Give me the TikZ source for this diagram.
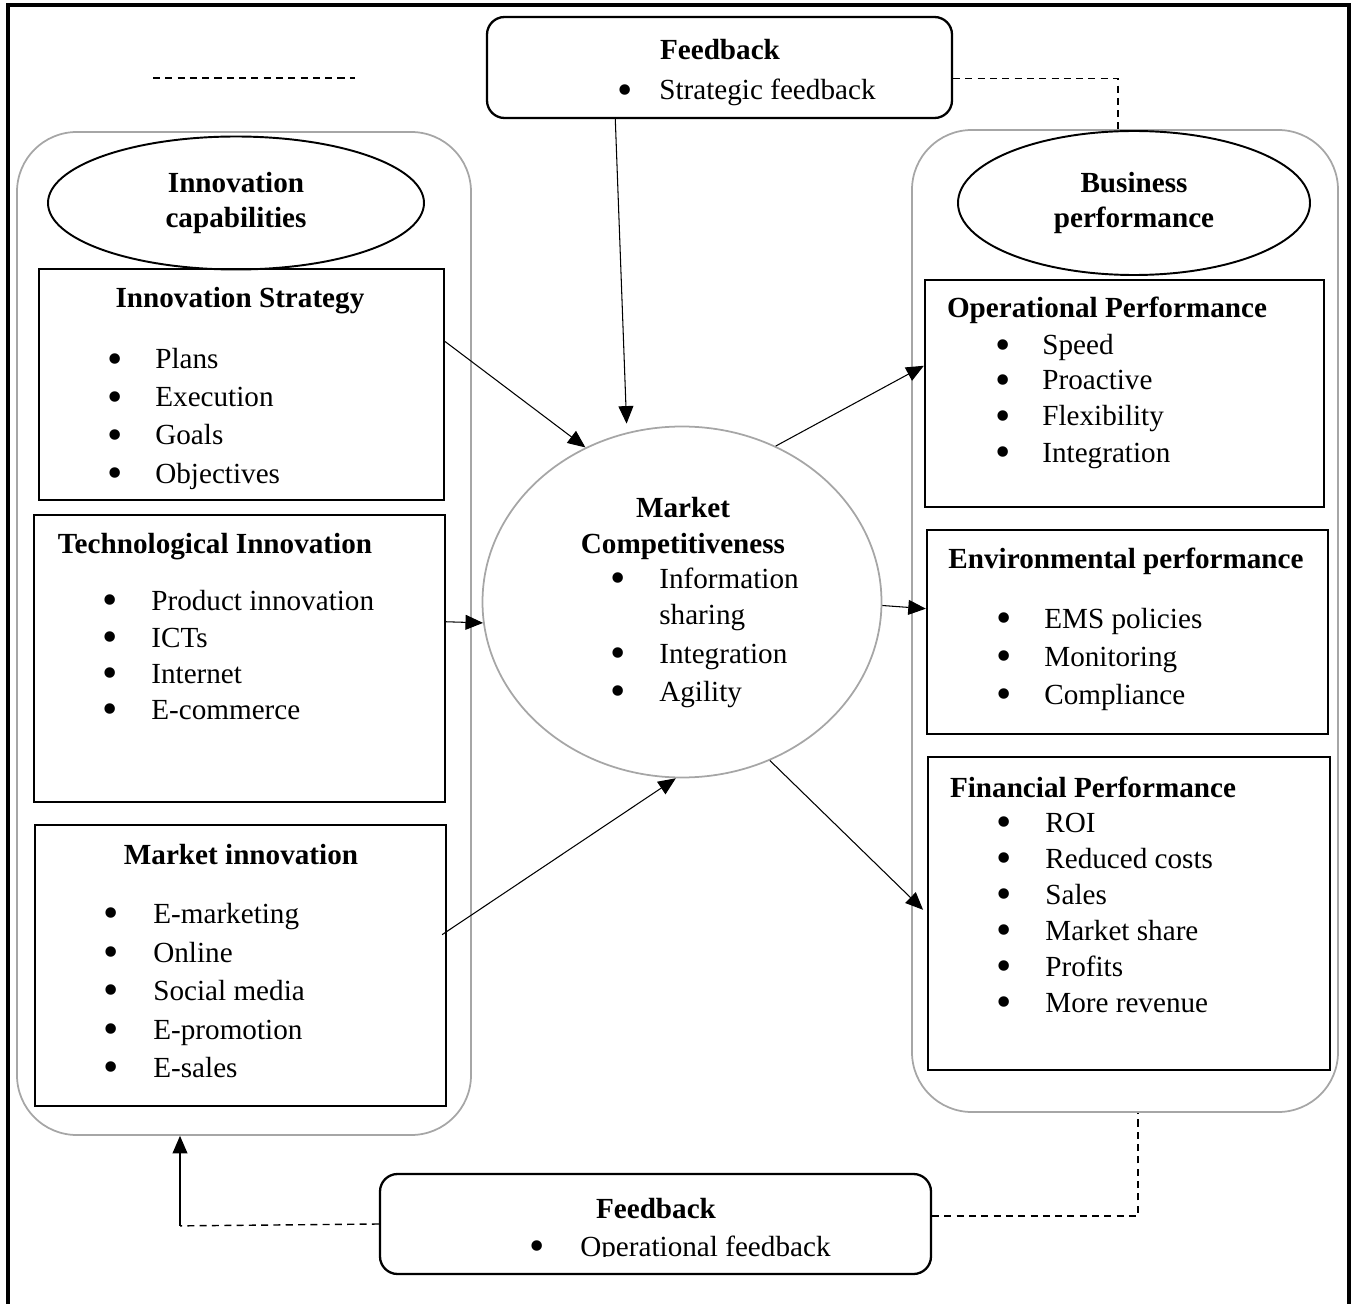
\documentclass[tikz,border=0pt]{standalone}
\usepackage{fontspec}
\usepackage{graphicx}
\setmainfont{Liberation Serif}
\usetikzlibrary{arrows.meta,shapes.geometric,calc,fit}

\newcommand\txtfont{\fontsize{16.6}{20.4}\selectfont}
% enlarged bullet, kept centred on the text line
\newcommand\dotmark{\smash{\raisebox{-2.6pt}{\scalebox{1.5}{\textbullet}}}}

% bullet list: prefix, bullet x, text x, {label/y, ...}
\newcommand\bulletlist[4]{%
  \foreach \lbl/\ypos [count=\i] in {#4} {
    \node[bul] (#1-b\i) at (#2,\ypos+10) {\dotmark};
    \node[itm] (#1-t\i) at (#3,\ypos+10) {\lbl};
  }}

\begin{document}
\begin{tikzpicture}[x=0.02cm,y=-0.02cm,
  every node/.style={font=\txtfont},
  frame/.style={line width=2.2pt},
  group/.style={draw=black!35, line width=1pt, rounded corners=34pt, inner sep=0pt},
  panel/.style={draw, line width=1.3pt, rectangle, inner sep=0pt},
  oval/.style={draw, ellipse, line width=1.1pt, inner sep=0pt, align=center,
    font=\txtfont\bfseries},
  bigoval/.style={draw=black!35, ellipse, line width=1pt, inner sep=0pt},
  fbbox/.style={draw, line width=1.3pt, rounded corners=10pt, inner sep=0pt},
  ttl/.style={font=\txtfont\bfseries, anchor=base, inner sep=0pt},
  itm/.style={anchor=base west, inner sep=0pt},
  bul/.style={anchor=base, inner sep=0pt},
  link/.style={line width=0.6pt, -{Triangle[length=10pt,width=8.5pt]}},
  fbline/.style={line width=0.8pt, dash pattern=on 4pt off 3pt},
]
\useasboundingbox (0,0) rectangle (1357,1304);

% outer frame, open at the bottom
\coordinate (fr-bl) at (8,1310);
\coordinate (fr-tl) at (8,5);
\coordinate (fr-tr) at (1349,5);
\coordinate (fr-br) at (1349,1310);
\draw[frame] (fr-bl) -- (fr-tl) -- (fr-tr) -- (fr-br);

% loose dashed stroke at top left
\coordinate (dl-a) at (153,78);
\coordinate (dl-b) at (355,78);
\draw[fbline] (dl-a) -- (dl-b);

% grouping containers
\node[group, fit={(17,132) (471,1135)}] (lc) {};
\node[group, fit={(912,130) (1338,1112)}] (rc) {};

% feedback boxes
\node[fbbox, fit={(487,17) (952,118)}] (fbtop) {};
\node[ttl] (fbtop-h) at (720,60) {Feedback};
\node[bul] (fbtop-b1) at (625,100) {\dotmark};
\node[itm] (fbtop-t1) at (659,100) {Strategic feedback};

\node[fbbox, fit={(380,1174) (931,1274)}] (fbbot) {};
\node[ttl] (fbbot-h) at (656,1218) {Feedback};
\begin{scope}
  \clip (fbbot.north west) rectangle (931,1256);
  \node[bul] (fbbot-b1) at (537,1256) {\dotmark};
  \node[itm] (fbbot-t1) at (580,1256) {Operational feedback};
\end{scope}

% headline ovals
\node[oval, minimum width=376*0.02cm, minimum height=133*0.02cm] (ic) at (236,203)
  {\raisebox{-3pt}{Innovation}\\\raisebox{-2pt}{capabilities}};
\node[oval, minimum width=352*0.02cm, minimum height=144*0.02cm] (bp) at (1134,203)
  {\raisebox{-1pt}{Business}\\performance};

% left panels
\node[panel, fit={(39,269) (444,500)}] (is) {};
\node[ttl] (is-h) at (240,308) {Innovation Strategy};
\bulletlist{is}{115}{155}{Plans/359, Execution/397, Goals/435, Objectives/473}

\node[panel, fit={(34,515) (445,802)}] (ti) {};
\node[ttl] (ti-h) at (215,553) {Technological Innovation};
\bulletlist{ti}{110}{151}{Product innovation/600, ICTs/637, Internet/673, E-commerce/709}

\node[panel, fit={(35,825) (446,1106)}] (mi) {};
\node[ttl] (mi-h) at (241,864) {Market innovation};
\bulletlist{mi}{111}{153}{E-marketing/913, Online/952, Social media/990, E-promotion/1029, E-sales/1067}

% central oval
\node[bigoval, minimum width=399*0.02cm, minimum height=351*0.02cm] (mc) at (682,602) {};
\node[ttl] (mc-h1) at (683,518) {Market};
\node[ttl] (mc-h2) at (683,553) {Competitiveness};
\node[bul] (mc-b1) at (618,588) {\dotmark};
\node[itm] (mc-t1) at (659,588) {Information};
\node[itm] (mc-t1b) at (659,624) {sharing};
\node[bul] (mc-b2) at (618,663) {\dotmark};
\node[itm] (mc-t2) at (659,663) {Integration};
\node[bul] (mc-b3) at (618,701) {\dotmark};
\node[itm] (mc-t3) at (659,701) {Agility};

% right panels
\node[panel, fit={(925,280) (1324,507)}] (op) {};
\node[ttl] (op-h) at (1107,318) {Operational Performance};
\bulletlist{op}{1003}{1042}{Speed/345, Proactive/380, Flexibility/416, Integration/452}

\node[panel, fit={(927,530) (1328,734)}] (ep) {};
\node[ttl] (ep-h) at (1126,568) {Environmental performance};
\bulletlist{ep}{1004}{1044}{EMS policies/618, Monitoring/656, Compliance/694}

\node[panel, fit={(928,757) (1330,1070)}] (fp) {};
\node[ttl] (fp-h) at (1093,797) {Financial Performance};
\bulletlist{fp}{1004}{1045}{ROI/822, Reduced costs/858, Sales/894, Market share/930, Profits/966, More revenue/1002}

% arrows into the central oval
\draw[link, shorten >=5pt] ($(fbtop.south west)!0.277!(fbtop.south east)$) -- (mc.108);
\draw[link] ($(is.north east)!0.316!(is.south east)$) -- (mc.122.6);
\draw[link] ($(ti.north east)!0.373!(ti.south east)$) -- (mc.186);
\draw[link] ($(mi.north east)!0.391!(mi.south east)+(-5,0)$) -- (mc.268);

% arrows out of the central oval
\draw[link] (mc.59.7) -- ($(op.north west)!0.379!(op.south west)$);
\draw[link] (mc.-1) -- ($(ep.north west)!0.387!(ep.south west)$);
\draw[link, shorten >=3pt] (mc.-61.7) -- (fp.west);

% feedback loops
\draw[fbline] ($(fbtop.north east)!0.604!(fbtop.south east)$) -| ($(rc.north)+(-7,0)$);
\draw[fbline] ($(fbbot.north east)!0.42!(fbbot.south east)$) -| ($(rc.south)+(13,0)$);
\coordinate (fbturn) at ($(lc.south)+(-64,90)$);
\draw[fbline] ($(fbbot.north west)!0.5!(fbbot.south west)$) -- (fbturn);
\draw[link] (fbturn) -- (fbturn |- lc.south);
\end{tikzpicture}
\end{document}
